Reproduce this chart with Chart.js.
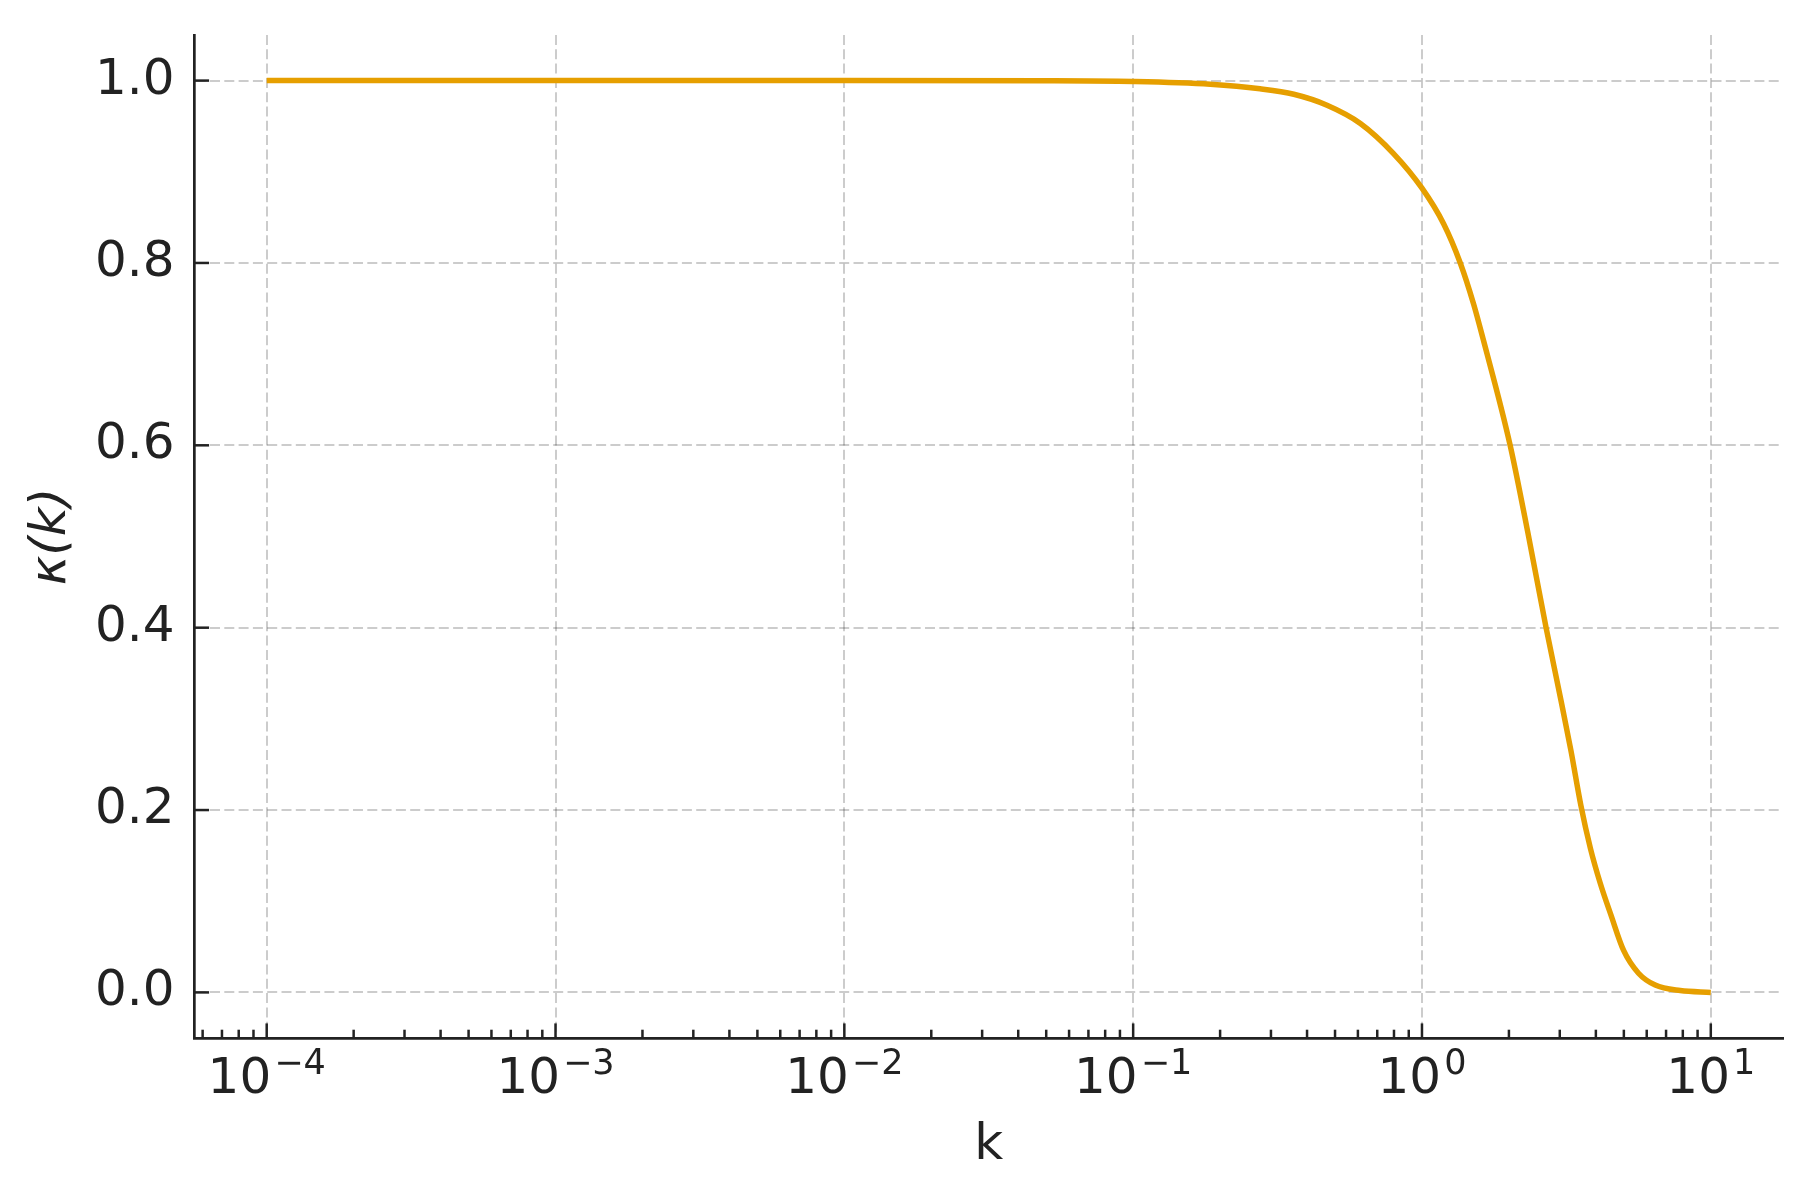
<!DOCTYPE html>
<html>
<head>
<meta charset="utf-8">
<script src="https://cdn.jsdelivr.net/npm/chart.js@4.4.0/dist/chart.umd.min.js"></script>
<style>
  html, body { margin: 0; padding: 0; background: #fff; }
  canvas { display: block; }
</style>
</head>
<body>
<canvas id="kappaChart" width="1815" height="1202"></canvas>
<script>
// valores
const kValues = [1e-4, 1e-3, 1e-2, 0.05, 0.1, 0.185, 0.275, 0.36, 0.469, 0.612, 0.797, 1.0, 1.188, 1.357, 1.509,
                 1.63, 2.02, 2.34, 2.69, 3.03, 3.28, 3.55, 3.83, 4.14, 4.51, 4.99, 5.62, 6.42, 7.84, 10];
const kappaValues = [1.0, 1.0, 1.0, 0.9998, 0.999, 0.996, 0.991, 0.985, 0.973, 0.953, 0.920, 0.882, 0.843, 0.80, 0.755,
                     0.716, 0.60, 0.50, 0.40, 0.32, 0.265, 0.205, 0.158, 0.12, 0.085, 0.046, 0.021, 0.008, 0.002, 0.0];
const yTickValues = [0, 0.2, 0.4, 0.6, 0.8, 1.0];
const xDecades = [-4, -3, -2, -1, 0, 1];
const xExponents = ['\u22124', '\u22123', '\u22122', '\u22121', '0', '1'];

const X_MIN = Math.pow(10, -4.25);
const X_MAX = Math.pow(10, 1.25);
const FONT = '"DejaVu Sans", sans-serif';
const INK = '#222';

function isDecade(v) {
    const l = Math.log10(v);
    return Math.abs(l - Math.round(l)) < 1e-9;
}

// posiciones de ticks mayores y menores del eje log
function buildLogTicks() {
    const ticks = [];
    for (let d = -5; d <= 1; d++) {
        for (let m = 1; m <= 9; m++) {
            const v = m * Math.pow(10, d);
            if (v >= X_MIN && v <= X_MAX) ticks.push({ value: v, major: m === 1 });
        }
    }
    return ticks;
}

// ticks hacia dentro y etiquetas 10^n
const axisMarks = {
    id: 'axisMarks',
    afterDraw(chart) {
        const ctx = chart.ctx;
        const xs = chart.scales.x;
        const ys = chart.scales.y;
        const area = chart.chartArea;
        ctx.save();
        ctx.strokeStyle = INK;
        ctx.lineWidth = 2.5;
        xs.ticks.forEach(t => {
            const px = xs.getPixelForValue(t.value);
            const len = isDecade(t.value) ? 14.6 : 8.3;
            ctx.beginPath();
            ctx.moveTo(px, area.bottom);
            ctx.lineTo(px, area.bottom - len);
            ctx.stroke();
        });
        ys.ticks.forEach(t => {
            const py = ys.getPixelForValue(t.value);
            ctx.beginPath();
            ctx.moveTo(area.left, py);
            ctx.lineTo(area.left + 14.6, py);
            ctx.stroke();
        });

        ctx.fillStyle = INK;
        ctx.textBaseline = 'alphabetic';
        ctx.textAlign = 'left';
        xDecades.forEach((d, i) => {
            const px = xs.getPixelForValue(Math.pow(10, d));
            ctx.font = '50px ' + FONT;
            const wb = ctx.measureText('10').width;
            ctx.font = '35px ' + FONT;
            const we = ctx.measureText(xExponents[i]).width;
            const left = px - (wb + 3 + we) / 2;
            ctx.font = '50px ' + FONT;
            ctx.fillText('10', left, area.bottom + 55);
            ctx.font = '35px ' + FONT;
            ctx.fillText(xExponents[i], left + wb + 3, area.bottom + 36);
        });
        ctx.restore();
    }
};

const points = kValues.map((k, i) => ({ x: k, y: kappaValues[i] }));

new Chart(document.getElementById('kappaChart').getContext('2d'), {
    type: 'line',
    data: {
        datasets: [{
            data: points,
            borderColor: '#E69F00',
            borderWidth: 5.5,
            pointRadius: 0,
            fill: false,
            cubicInterpolationMode: 'monotone'
        }]
    },
    options: {
        responsive: false,
        animation: false,
        devicePixelRatio: 1,
        layout: { padding: { top: 35, right: 32, left: 0, bottom: 0 } },
        plugins: {
            legend: { display: false },
            tooltip: { enabled: false }
        },
        scales: {
            x: {
                type: 'logarithmic',
                min: X_MIN,
                max: X_MAX,
                afterBuildTicks: s => { s.ticks = buildLogTicks(); },
                afterFit: s => { s.height = 164; s.paddingLeft = 0; s.paddingRight = 0; },
                ticks: { display: false },
                grid: {
                    drawTicks: false,
                    lineWidth: 2,
                    color: c => (c.tick && isDecade(c.tick.value)) ? 'rgba(0,0,0,0.2)' : 'rgba(0,0,0,0)'
                },
                border: { display: true, color: INK, width: 2.7, dash: [10, 4.3] },
                title: {
                    display: true,
                    text: 'k',
                    color: INK,
                    font: { family: FONT, size: 50 },
                    padding: { top: 0, bottom: 26 }
                }
            },
            y: {
                type: 'linear',
                min: -0.05,
                max: 1.05,
                afterBuildTicks: s => { s.ticks = yTickValues.map(v => ({ value: v })); },
                afterFit: s => { s.width = 194.5; s.paddingTop = 0; s.paddingBottom = 0; },
                ticks: {
                    color: INK,
                    padding: 20,
                    font: { family: FONT, size: 50 },
                    callback: v => v.toFixed(1)
                },
                grid: {
                    drawTicks: false,
                    lineWidth: 2,
                    color: 'rgba(0,0,0,0.2)'
                },
                border: { display: true, color: INK, width: 2.7, dash: [10, 4.3] },
                title: {
                    display: true,
                    text: 'κ(k)',
                    color: INK,
                    font: { family: FONT, size: 50, style: 'italic' },
                    padding: { top: 22, bottom: 0 }
                }
            }
        }
    },
    plugins: [axisMarks]
});
</script>
</body>
</html>
